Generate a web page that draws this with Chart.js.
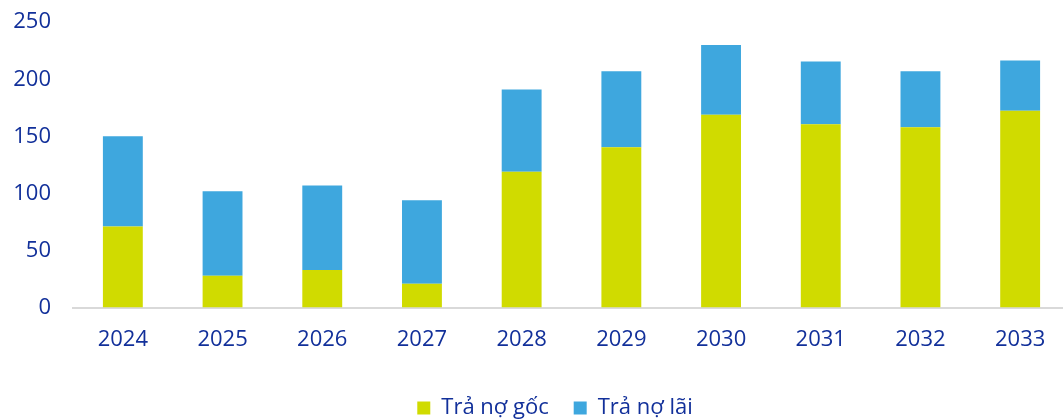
<!DOCTYPE html>
<html>
<head>
<meta charset="utf-8">
<script src="https://cdn.jsdelivr.net/npm/chart.js@4/dist/chart.umd.min.js"></script>
<style>
  html, body { margin: 0; padding: 0; background: #fff; overflow: hidden; width: 1063px; height: 420px; }
  #wrap { position: absolute; left: 0; top: -13px; width: 1102px; height: 446px; }
</style>
</head>
<body>
<div id="wrap"><canvas id="c"></canvas></div>
<script>
const categories = ['2024', '2025', '2026', '2027', '2028', '2029', '2030', '2031', '2032', '2033'];
const principal = [71, 28, 33, 21, 119, 140.5, 169, 160.5, 158, 172.5];
const interest = [79, 74, 74, 73, 72, 66.5, 61, 55, 49, 44];
const seriesNames = ['Trả nợ gốc', 'Trả nợ lãi'];
const yTicks = [0, 50, 100, 150, 200, 250];

const navy = '#12309a';
const font = { family: '"Open Sans", sans-serif', size: 22 };

const legendShift = {
  id: 'legendShift',
  beforeDraw(chart) {
    if (chart.legend && !chart.legend._shifted) {
      chart.legend.left += 20;
      chart.legend.right += 20;
      chart.legend._shifted = true;
    }
  },
  afterLayout(chart) {
    if (chart.legend) chart.legend._shifted = false;
  }
};

new Chart(document.getElementById('c'), {
  type: 'bar',
  data: {
    labels: categories,
    datasets: [
      { label: seriesNames[0], data: principal, backgroundColor: '#d0db00', borderWidth: 0 },
      { label: seriesNames[1], data: interest, backgroundColor: '#3ea7de', borderWidth: 0 }
    ]
  },
  plugins: [legendShift],
  options: {
    responsive: true,
    maintainAspectRatio: false,
    animation: false,
    layout: { padding: { top: 10, right: 32, bottom: 4, left: 0 } },
    datasets: { bar: { categoryPercentage: 0.8, barPercentage: 0.5 } },
    plugins: {
      tooltip: { enabled: false },
      legend: {
        position: 'bottom',
        labels: {
          color: navy, font: font, boxWidth: 13, boxHeight: 13, padding: 25
        }
      }
    },
    scales: {
      x: {
        stacked: true,
        grid: { display: false, drawTicks: false },
        border: { display: true, color: '#d9d9d9', width: 2 },
        ticks: { color: navy, font: font, padding: 19, maxRotation: 0 }
      },
      y: {
        stacked: true,
        min: 0, max: 250,
        afterFit: (s) => { s.width = 73; },
        afterBuildTicks: (s) => { s.ticks = yTicks.map(v => ({ value: v })); },
        grid: { display: false, drawTicks: false },
        border: { display: false },
        ticks: { color: navy, font: font, padding: 22 }
      }
    }
  }
});
</script>
</body>
</html>
